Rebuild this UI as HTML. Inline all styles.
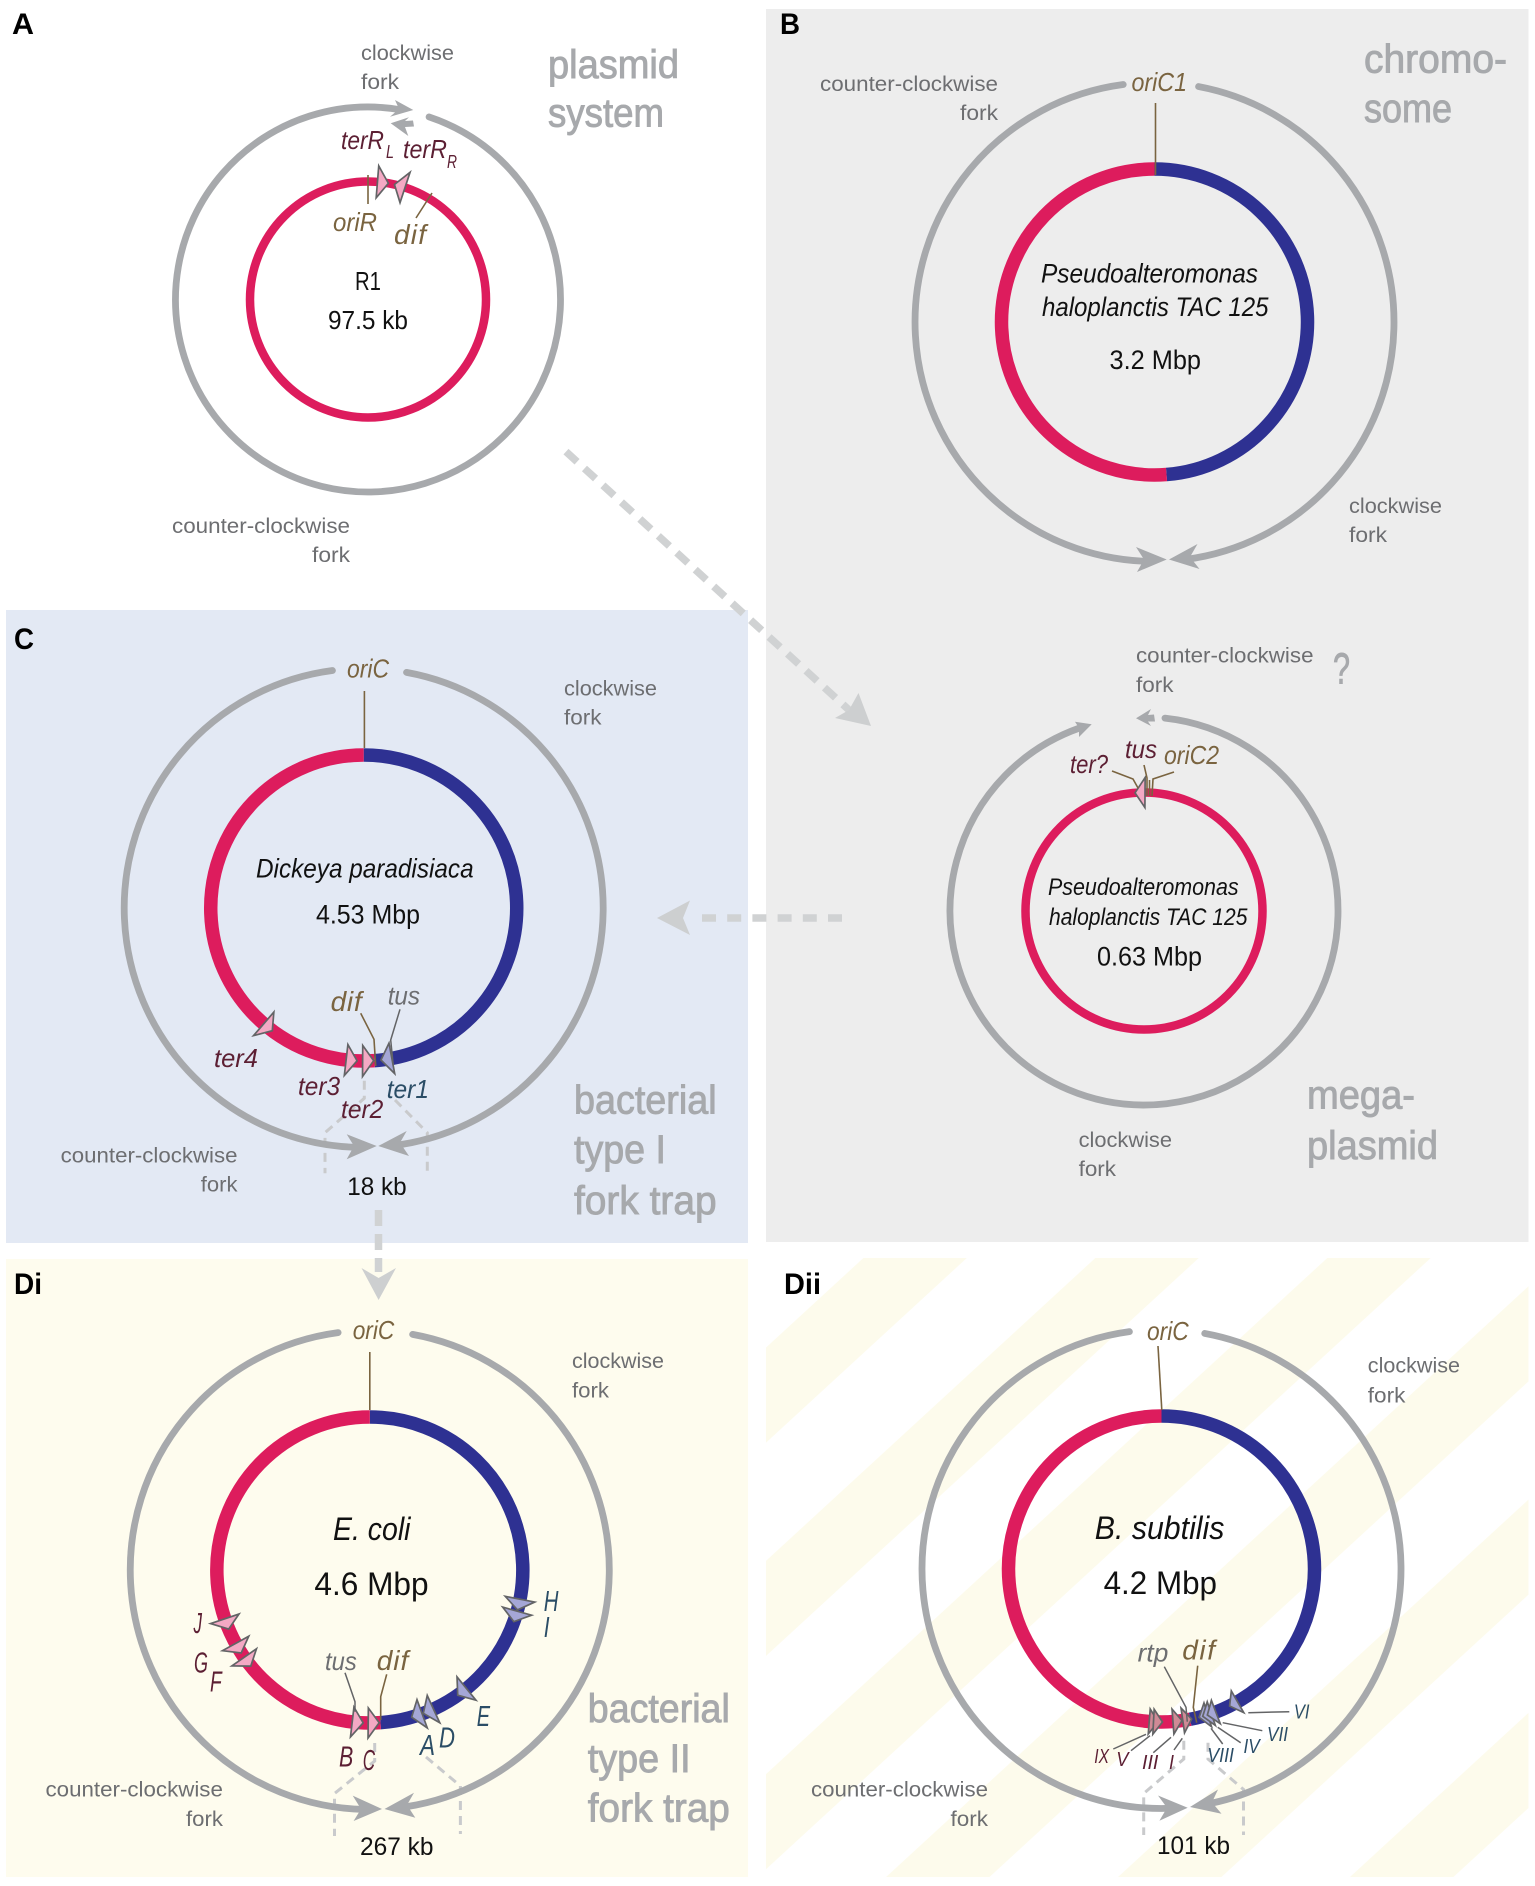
<!DOCTYPE html>
<html lang="en">
<head>
<meta charset="utf-8">
<title>Replication fork trap systems</title>
<style>
html,body{margin:0;padding:0;background:#fff;width:1535px;height:1886px;overflow:hidden}
svg{display:block}
text{font-family:"Liberation Sans Narrow","Liberation Sans",sans-serif}
.fk{font-size:21px;fill:#6d6e71;transform:translateY(-1px)}
.big{font-size:40px;fill:#a7a9ac;stroke:#a7a9ac;stroke-width:.9px;transform:translateY(-.5px)}
.pl{font-family:"Liberation Sans",sans-serif;font-size:30px;font-weight:bold;fill:#000}
.bk{font-size:26px;fill:#111}
.sp{font-size:27px;font-style:italic;fill:#111}
.sm{font-size:24px;font-style:italic;fill:#111}
.mr{font-size:26px;font-style:italic;fill:#5c1f33}
.tl{font-size:26px;font-style:italic;fill:#2b4d66}
.br{font-size:26px;font-style:italic;fill:#7a6440}
.gy{font-size:26px;font-style:italic;fill:#6d6e71}
.ltr{font-size:29px}
.rm{font-size:20px;font-style:italic}
.ptr{fill:none;stroke:#7a6440;stroke-width:1.6}
.ptg{fill:none;stroke:#636466;stroke-width:1.5}
.brk{fill:none;stroke:#c9cacc;stroke-width:3;stroke-dasharray:9 6}
.dash{fill:none;stroke:#d0d2d3;stroke-width:7.5}
.ah{fill:#a7a9ac}
.dh{fill:#cdcfd0}
</style>
</head>
<body>
<svg xmlns="http://www.w3.org/2000/svg" width="1535" height="1886" viewBox="0 0 1535 1886">
<defs>
<pattern id="stripes" patternUnits="userSpaceOnUse" width="157" height="10" patternTransform="translate(863.4 1258) rotate(47.4)">
<rect x="0" y="0" width="70" height="10" fill="#fdfbec"></rect>
</pattern>
</defs>
<rect x="766" y="9" width="762.5" height="1233" fill="#ededed"></rect>
<rect x="6" y="610" width="742" height="633" fill="#e3e9f4"></rect>
<rect x="6" y="1259" width="742" height="618" fill="#fefcee"></rect>
<rect x="766" y="1258" width="762.5" height="619" fill="#fff"></rect>
<rect x="766" y="1258" width="762.5" height="619" fill="url(#stripes)"></rect>

<g>
<line class="dash" x1="566" y1="451.6" x2="849" y2="710" stroke-dasharray="15 10"></line>
<polygon class="dh" points="871,726 858.5,693 849,710 835,718"></polygon>
<line class="dash" x1="842" y1="918" x2="700" y2="918" stroke-dasharray="14 11.2"></line>
<polygon class="dh" points="657,918 690,900.5 683,918 690,935"></polygon>
<line class="dash" x1="378.5" y1="1210" x2="378.5" y2="1272" stroke-width="7" stroke-dasharray="16 8"></line>
<polygon class="dh" points="378.6,1300 361.5,1268 378.6,1278 396,1268"></polygon>
</g>

<g>
<polyline class="brk" points="364.3,1080.7 364.3,1098.3 325,1132.7 325,1173.3"></polyline>
<polyline class="brk" points="395,1100 427.3,1132.7 427.3,1173.3"></polyline>
<polyline class="brk" points="374.7,1743 374.7,1761 334.5,1793.5 334.5,1836"></polyline>
<polyline class="brk" points="426,1757 460.4,1786 460.4,1834"></polyline>
<polyline class="brk" points="1183.8,1740.8 1183.8,1759 1143.7,1793.5 1143.7,1835"></polyline>
<polyline class="brk" points="1208,1742.8 1208,1759 1243.5,1789.5 1243.5,1835"></polyline>
</g>

<g id="fork-layer"></g>
<g id="ring-layer"></g>
<g id="marker-layer"></g>

<g>
<polygon class="ah" points="413.3,110 395,100 399,109 390,116.7"></polygon>
<polygon class="ah" points="390.7,123.3 409,117.3 405,121 413,120.5 414,126.5 405,127 408.3,136"></polygon>
<polygon class="ah" points="1166.7,559.5 1136,547 1144,559.5 1137,572"></polygon>
<polygon class="ah" points="1169,559.5 1197.5,544 1190,557 1199.5,569"></polygon>
<polygon class="ah" points="1091.7,724.3 1075,721.7 1079,728 1079,737"></polygon>
<polygon class="ah" points="1136,718.3 1151,709 1148,715 1154,714.5 1155,721.5 1148,721.5 1151,726"></polygon>
<polygon class="ah" points="376.7,1146 346.7,1134.3 354,1146 346.7,1159.3"></polygon>
<polygon class="ah" points="378.3,1146 406.7,1131 400,1142.7 409,1156"></polygon>
<polygon class="ah" points="382,1809 352.7,1795.6 361,1809 353.6,1821"></polygon>
<polygon class="ah" points="384.5,1809 414,1792.7 407,1805 415.3,1817.8"></polygon>
<polygon class="ah" points="1187.7,1807.7 1158,1795.5 1167,1807.7 1159.4,1820.7"></polygon>
<polygon class="ah" points="1190,1807 1218,1789.5 1212,1802.4 1221.5,1813.8"></polygon>
</g>

<g>
<line class="ptr" x1="368" y1="175" x2="368" y2="204"></line>
<line class="ptr" x1="432" y1="193" x2="416" y2="218"></line>
<line class="ptr" x1="1155.5" y1="103" x2="1155.5" y2="175"></line>
<polyline class="ptr" points="1112,771 1133,779 1138,788"></polyline>
<polyline class="ptr" points="1144,765 1147,778 1147,796"></polyline>
<polyline class="ptr" points="1174,772 1153,779 1152,796"></polyline>
<line class="ptr" x1="1149.5" y1="780" x2="1149.5" y2="796"></line>
<line class="ptr" x1="364.4" y1="691" x2="364.4" y2="748"></line>
<polyline class="ptr" points="360.7,1013.3 374,1039.3 375.7,1066"></polyline>
<polyline class="ptg" points="400,1009.3 390.7,1040 393.3,1066"></polyline>
<line class="ptr" x1="369.8" y1="1352" x2="369.8" y2="1410"></line>
<polyline class="ptg" points="345,1672.7 355,1701.7 355,1711.7"></polyline>
<polyline class="ptr" points="386.7,1674.3 380.7,1696.7 380.7,1720"></polyline>
<line class="ptr" x1="1158" y1="1346" x2="1161.8" y2="1410"></line>
<polyline class="ptg" points="1164.3,1666.7 1186,1707.3 1187.3,1721.7"></polyline>
<polyline class="ptr" points="1197.7,1665.7 1193.3,1707.3 1196.7,1722.7"></polyline>
<line class="ptg" x1="1113.3" y1="1749" x2="1146" y2="1734.3"></line>
<line class="ptg" x1="1131" y1="1750.7" x2="1150" y2="1735.7"></line>
<line class="ptg" x1="1153.3" y1="1752.7" x2="1171" y2="1737.3"></line>
<line class="ptg" x1="1174" y1="1750" x2="1182.3" y2="1738.3"></line>
<line class="ptg" x1="1222.7" y1="1744" x2="1211" y2="1728.3"></line>
<line class="ptg" x1="1240.7" y1="1742.7" x2="1217.7" y2="1727.3"></line>
<line class="ptg" x1="1262.3" y1="1730.7" x2="1222.7" y2="1722.7"></line>
<line class="ptg" x1="1289.3" y1="1711.7" x2="1248.3" y2="1712.7"></line>
</g>

<g>
<text class="pl" x="12" y="34" textLength="22">A</text>
<text class="pl" x="780" y="34" textLength="20">B</text>
<text class="pl" x="14" y="649" textLength="20">C</text>
<text class="pl" x="14" y="1294" textLength="28">Di</text>
<text class="pl" x="784" y="1294" textLength="37">Dii</text>
</g>

<g>
<text class="fk" x="361" y="61" textLength="93">clockwise</text>
<text class="fk" x="361" y="90" textLength="38">fork</text>
<text class="big" x="548" y="78.5" textLength="131">plasmid</text>
<text class="big" x="548" y="127" textLength="116">system</text>
<text class="mr" x="341" y="149" textLength="43">terR</text>
<text class="mr" x="386" y="158" textLength="8" style="font-size:18px">L</text>
<text class="mr" x="403" y="158" textLength="44">terR</text>
<text class="mr" x="447" y="168" textLength="10" style="font-size:18px">R</text>
<text class="br" x="333" y="231" textLength="44">oriR</text>
<text class="br ls" x="394" y="244" textLength="32" style="font-size:28px">dif</text>
<text class="bk" x="355" y="290" textLength="26">R1</text>
<text class="bk" x="328" y="329" textLength="80">97.5 kb</text>
<text class="fk" x="172" y="534" textLength="178">counter-clockwise</text>
<text class="fk" x="312" y="563" textLength="38">fork</text>
</g>

<g>
<text class="fk" x="820" y="92" textLength="178">counter-clockwise</text>
<text class="fk" x="960" y="121" textLength="38">fork</text>
<text class="br" x="1131.5" y="91" textLength="55.5">oriC1</text>
<text class="big" x="1364" y="73" textLength="143">chromo-</text>
<text class="big" x="1364" y="122.5" textLength="88">some</text>
<text class="sp" x="1041" y="282.5" textLength="217">Pseudoalteromonas</text>
<text class="sp" x="1042" y="316" textLength="226.5">haloplanctis TAC 125</text>
<text class="bk" x="1109.5" y="369" textLength="91.5" style="font-size:27px">3.2 Mbp</text>
<text class="fk" x="1349" y="514" textLength="93">clockwise</text>
<text class="fk" x="1349" y="543" textLength="38">fork</text>
<text class="fk" x="1136" y="663.4" textLength="177.5">counter-clockwise</text>
<text class="fk" x="1136" y="693" textLength="37.5">fork</text>
<text class="big" x="1333" y="684" textLength="17" style="font-size:44px">?</text>
<text class="mr" x="1070" y="773" textLength="38">ter?</text>
<text class="mr" x="1125" y="758" textLength="32">tus</text>
<text class="br" x="1164" y="764" textLength="55">oriC2</text>
<text class="sm" x="1048" y="895" textLength="190.6">Pseudoalteromonas</text>
<text class="sm" x="1049" y="925" textLength="198.4">haloplanctis TAC 125</text>
<text class="bk" x="1097" y="965.6" textLength="105" style="font-size:27px">0.63 Mbp</text>
<text class="fk" x="1078.6" y="1148" textLength="93.4">clockwise</text>
<text class="fk" x="1078.6" y="1177" textLength="37.4">fork</text>
<text class="big" x="1307" y="1109" textLength="108">mega-</text>
<text class="big" x="1307" y="1159.6" textLength="131">plasmid</text>
</g>

<g>
<text class="br" x="347" y="677.5" textLength="42">oriC</text>
<text class="fk" x="564" y="696.6" textLength="93">clockwise</text>
<text class="fk" x="564" y="725.6" textLength="37.5">fork</text>
<text class="sp" x="256" y="877.7" textLength="217.6">Dickeya paradisiaca</text>
<text class="bk" x="316" y="923.3" textLength="104" style="font-size:27px">4.53 Mbp</text>
<text class="br ls" x="330.6" y="1011" textLength="31" style="font-size:28px">dif</text>
<text class="gy" x="387.7" y="1004.3" textLength="32.3">tus</text>
<text class="mr" x="214" y="1067" textLength="44">ter4</text>
<text class="mr" x="298" y="1095" textLength="42">ter3</text>
<text class="mr" x="341" y="1118" textLength="42.3">ter2</text>
<text class="tl" x="386.7" y="1098" textLength="42.3">ter1</text>
<text class="fk" x="60.7" y="1163.7" textLength="176.8">counter-clockwise</text>
<text class="fk" x="200.8" y="1192.7" textLength="36.7">fork</text>
<text class="bk" x="347.3" y="1195" textLength="59.4" style="font-size:25px">18 kb</text>
<text class="big" x="574" y="1114" textLength="142.6">bacterial</text>
<text class="big" x="574" y="1163.7" textLength="92">type I</text>
<text class="big" x="574" y="1214.7" textLength="142.6">fork trap</text>
</g>

<g>
<text class="br" x="352.7" y="1339" textLength="41.6">oriC</text>
<text class="fk" x="572" y="1369" textLength="92">clockwise</text>
<text class="fk" x="572" y="1398.5" textLength="37">fork</text>
<text class="sp" x="333" y="1540" textLength="77.5" style="font-size:32px">E. coli</text>
<text class="bk" x="314.4" y="1594.8" textLength="114.2" style="font-size:32px">4.6 Mbp</text>
<text class="gy" x="325" y="1670" textLength="31.7">tus</text>
<text class="br ls" x="376.7" y="1670" textLength="31.6" style="font-size:28px">dif</text>
<text class="mr ltr" x="193.5" y="1633" textLength="8.5">J</text>
<text class="mr ltr" x="194" y="1672.7" textLength="14">G</text>
<text class="mr ltr" x="210" y="1691.7" textLength="11.7">F</text>
<text class="mr ltr" x="339" y="1766.7" textLength="14.3">B</text>
<text class="mr ltr" x="362.7" y="1770" textLength="12.3">C</text>
<text class="tl ltr" x="420" y="1755" textLength="15">A</text>
<text class="tl ltr" x="439" y="1747.7" textLength="16">D</text>
<text class="tl ltr" x="476.7" y="1726" textLength="13.3">E</text>
<text class="tl ltr" x="543.7" y="1611" textLength="14.7">H</text>
<text class="tl ltr" x="543.7" y="1637" textLength="5.8">I</text>
<text class="fk" x="45.5" y="1797.6" textLength="177.4">counter-clockwise</text>
<text class="fk" x="186" y="1827" textLength="36.9">fork</text>
<text class="bk" x="360" y="1855" textLength="73.5" style="font-size:25px">267 kb</text>
<text class="big" x="587.8" y="1722.5" textLength="142">bacterial</text>
<text class="big" x="587.8" y="1772.4" textLength="102.8">type II</text>
<text class="big" x="587.8" y="1822" textLength="142">fork trap</text>
</g>

<g>
<text class="br" x="1147" y="1340" textLength="41.7">oriC</text>
<text class="fk" x="1367.8" y="1373.7" textLength="92.2">clockwise</text>
<text class="fk" x="1367.8" y="1403.3" textLength="37.6">fork</text>
<text class="sp" x="1094.8" y="1539" textLength="129.6" style="font-size:32px">B. subtilis</text>
<text class="bk" x="1103.6" y="1594" textLength="113.4" style="font-size:32px">4.2 Mbp</text>
<text class="gy" x="1137.7" y="1661.7" textLength="30.6">rtp</text>
<text class="br ls" x="1182.3" y="1659.3" textLength="32.7" style="font-size:28px">dif</text>
<text class="rm" fill="#5c1f33" x="1094.3" y="1763" textLength="14.7">IX</text>
<text class="rm" fill="#5c1f33" x="1116.3" y="1766" textLength="12.2">V</text>
<text class="rm" fill="#5c1f33" x="1142" y="1769" textLength="16.4">III</text>
<text class="rm" fill="#5c1f33" x="1169" y="1769" textLength="5">I</text>
<text class="rm" fill="#2b4d66" x="1207.3" y="1762" textLength="26.7">VIII</text>
<text class="rm" fill="#2b4d66" x="1243.5" y="1753" textLength="16.2">IV</text>
<text class="rm" fill="#2b4d66" x="1267" y="1740.8" textLength="21">VII</text>
<text class="rm" fill="#2b4d66" x="1293.9" y="1718.5" textLength="15.6">VI</text>
<text class="fk" x="811" y="1797.6" textLength="177">counter-clockwise</text>
<text class="fk" x="950.5" y="1827" textLength="37.5">fork</text>
<text class="bk" x="1157" y="1854" textLength="73" style="font-size:25px">101 kb</text>
</g>

<script>
// Genome data: degrees clockwise from the origin at the top of each map.
const chromosomeSplit = 175.5;
const cSplit = 176;
const diSplit = 176;
const diiSplit = 169.2;

const aTerNames = ['terRL', 'terRR'];
const aTerAngles = [4.6, 18.3];
const aTerDirs = [1, -1];

const megaTerNames = ['ter'];
const megaTerAngles = [0.5];
const megaTerDirs = [-1];

const cTerNames = ['ter4', 'ter3', 'ter2', 'ter1'];
const cTerAngles = [220.8, 186.6, 180.4, 169.4];
const cTerDirs = [-1, -1, -1, 1];

const diTerNames = ['J', 'G', 'F', 'B', 'C', 'A', 'D', 'E', 'H', 'I'];
const diTerAngles = [251.4, 241.3, 235.2, 186.6, 180.6, 160, 155.4, 140.8, 101, 105.6];
const diTerDirs = [-1, -1, -1, -1, -1, 1, 1, 1, 1, 1];

const diiTerNames = ['IX', 'V', 'III', 'I', 'VIII', 'IV', 'VII', 'VI'];
const diiTerAngles = [184.6, 183, 175.7, 172, 162.4, 161, 159.2, 150.2];
const diiTerDirs = [-1, -1, -1, -1, 1, 1, 1, 1];

// Fork arcs: [start, end] in degrees clockwise from the top.
const aForkArc = [18.5, 369.6];
const megaForkArc = [6.2, 340.5];
const bForkArcs = [[10.6, 172.7], [181, 352.5]];
const cForkArcs = [[10.3, 171.3], [182.4, 352.5]];
const diForkArcs = [[10.3, 171.3], [181.2, 352.4]];
const diiForkArcs = [[10.4, 168.2], [177.6, 352.3]];

const NS = 'http://www.w3.org/2000/svg';
const forkLayer = document.getElementById('fork-layer');
const ringLayer = document.getElementById('ring-layer');
const markerLayer = document.getElementById('marker-layer');

function polar(m, r, deg) {
  const a = deg * Math.PI / 180;
  return [m.cx + r * Math.sin(a), m.cy - r * Math.cos(a)];
}
function arcPath(m, r, a0, a1) {
  const p0 = polar(m, r, a0);
  const p1 = polar(m, r, a1);
  const large = (a1 - a0) > 180 ? 1 : 0;
  return 'M' + p0[0].toFixed(2) + ' ' + p0[1].toFixed(2) + 'A' + r + ' ' + r + ' 0 ' + large + ' 1 ' + p1[0].toFixed(2) + ' ' + p1[1].toFixed(2);
}
function drawForkArc(m, arc, prefix, i) {
  const el = document.createElementNS(NS, 'path');
  el.setAttribute('d', arcPath(m, m.forkR, arc[0], arc[1]));
  el.setAttribute('fill', 'none');
  el.setAttribute('stroke', '#a7a9ac');
  el.setAttribute('stroke-width', '6.8');
  el.setAttribute('stroke-linecap', 'round');
  
  
  forkLayer.appendChild(el);
}
function drawReplichore(m, a0, a1, colour, name) {
  const el = document.createElementNS(NS, 'path');
  el.setAttribute('d', arcPath(m, m.ringR, a0, a1));
  el.setAttribute('fill', 'none');
  el.setAttribute('stroke', colour);
  el.setAttribute('stroke-width', m.ringW);
  
  
  ringLayer.appendChild(el);
}
function drawPlasmidRing(m, name) {
  const el = document.createElementNS(NS, 'circle');
  el.setAttribute('cx', m.cx);
  el.setAttribute('cy', m.cy);
  el.setAttribute('r', m.ringR);
  el.setAttribute('fill', 'none');
  el.setAttribute('stroke', '#dd1c5d');
  el.setAttribute('stroke-width', m.ringW);
  
  
  ringLayer.appendChild(el);
}
function drawMarkers(m, names, angles, dirs, prefix) {
  angles.forEach(function (deg, i) {
    const tip = polar(m, m.ringR, deg + dirs[i] * m.depth / m.ringR * 180 / Math.PI);
    const b0 = polar(m, m.ringR + m.half, deg);
    const b1 = polar(m, m.ringR - m.half, deg);
    const el = document.createElementNS(NS, 'polygon');
    el.setAttribute('points', [b0, tip, b1].map(function (p) { return p[0].toFixed(2) + ',' + p[1].toFixed(2); }).join(' '));
    el.setAttribute('fill', dirs[i] < 0 || m.allPink ? m.pink : m.blue);
    el.setAttribute('stroke', '#636466');
    el.setAttribute('stroke-width', '1.7');
    
    
    markerLayer.appendChild(el);
  });
}
function mapLayout(cx, cy, forkR, ringR, ringW, half, depth, pink, blue, allPink) {
  return { cx: cx, cy: cy, forkR: forkR, ringR: ringR, ringW: ringW, half: half, depth: depth, pink: pink, blue: blue, allPink: allPink };
}
function drawChromosome(m, split, prefix) {
  drawReplichore(m, 0, split, '#2e3192', prefix + '-clockwise-replichore');
  drawReplichore(m, split, 360, '#dd1c5d', prefix + '-counter-clockwise-replichore');
}

const mapA = mapLayout(368, 299.5, 192.5, 118, 8.5, 16, 11, '#f4a9c4', '#a5a7d6', true);
const mapB = mapLayout(1154.5, 322, 239.5, 153, 13.5, 15, 11, '#f4a9c4', '#a5a7d6', false);
const mapMega = mapLayout(1144, 911, 194, 118.5, 8.5, 15, 10, '#f4a9c4', '#a5a7d6', true);
const mapC = mapLayout(363.7, 908, 239.5, 153, 13.5, 15.5, 11, '#f4a9c4', '#a5a7d6', false);
const mapDi = mapLayout(369.8, 1570, 239.5, 153, 13.5, 15, 11, '#f4a9c4', '#a5a7d6', false);
const mapDii = mapLayout(1161.5, 1569, 239.5, 153, 13.5, 12.5, 9, '#cf8a96', '#a5a7d6', false);

drawForkArc(mapA, aForkArc, 'a', 1);
drawForkArc(mapMega, megaForkArc, 'mega', 1);
bForkArcs.forEach(function (arc, i) { drawForkArc(mapB, arc, 'b', i + 1); });
cForkArcs.forEach(function (arc, i) { drawForkArc(mapC, arc, 'c', i + 1); });
diForkArcs.forEach(function (arc, i) { drawForkArc(mapDi, arc, 'di', i + 1); });
diiForkArcs.forEach(function (arc, i) { drawForkArc(mapDii, arc, 'dii', i + 1); });

drawPlasmidRing(mapA, 'r1-plasmid-ring');
drawPlasmidRing(mapMega, 'megaplasmid-ring');
drawChromosome(mapB, chromosomeSplit, 'b');
drawChromosome(mapC, cSplit, 'c');
drawChromosome(mapDi, diSplit, 'di');
drawChromosome(mapDii, diiSplit, 'dii');

drawMarkers(mapA, aTerNames, aTerAngles, aTerDirs, 'a');
drawMarkers(mapMega, megaTerNames, megaTerAngles, megaTerDirs, 'mega');
drawMarkers(mapC, cTerNames, cTerAngles, cTerDirs, 'c');
drawMarkers(mapDi, diTerNames, diTerAngles, diTerDirs, 'di');
drawMarkers(mapDii, diiTerNames, diiTerAngles, diiTerDirs, 'dii');

document.querySelectorAll('text[textLength]').forEach(function (t) {
  if (t.classList.contains('ls')) {
    t.setAttribute('lengthAdjust', 'spacing');
  } else {
    t.setAttribute('lengthAdjust', 'spacingAndGlyphs');
  }
});
</script>
</svg>
</body>
</html>
